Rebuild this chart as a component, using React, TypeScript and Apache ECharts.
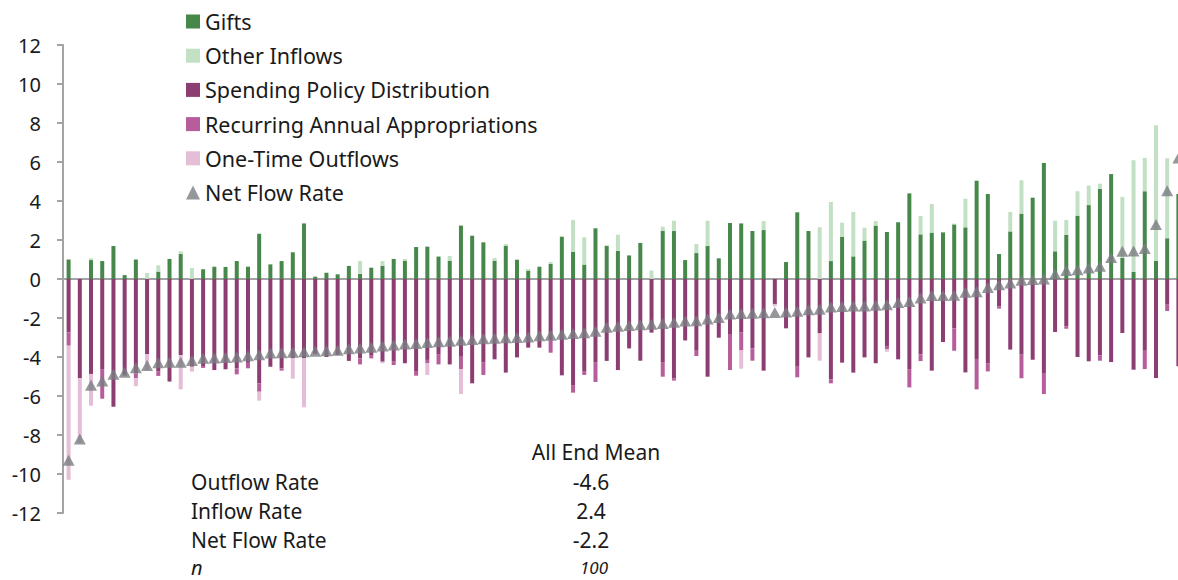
import React, { useEffect, useRef } from "react";
import * as echarts from "echarts";

const categories = Array.from({ length: 100 }, (_, i) => `Endowment ${i + 1}`);

const gifts = [
  1.0, 0, 0.97, 0.92, 1.69, 0.2, 1.0, 0, 0.38, 1.03,
  1.28, 0, 0.5, 0.63, 0.62, 0.92, 0.63, 2.32, 0.75, 0.92,
  1.37, 2.85, 0.12, 0.32, 0.24, 0.67, 0.26, 0.58, 0.67, 1.03,
  0.94, 1.64, 1.66, 1.15, 0.94, 2.74, 2.22, 1.88, 0.94, 1.71,
  0.99, 0.43, 0.63, 0.77, 2.17, 1.4, 0.74, 2.6, 1.69, 1.44,
  1.21, 1.85, 0, 2.46, 2.46, 0.97, 1.33, 1.69, 1.06, 2.87,
  2.85, 2.46, 2.51, 0, 0.87, 3.42, 2.46, 0, 0.92, 2.17,
  1.16, 1.97, 2.74, 2.41, 2.91, 4.39, 2.29, 2.38, 2.39, 2.8,
  2.65, 5.04, 4.36, 1.28, 2.44, 3.35, 4.17, 5.95, 1.42, 2.27,
  3.25, 3.79, 4.62, 5.38, 1.08, 0.36, 4.5, 0.94, 2.09, 4.36,
];

const otherInflows = [
  0, 0, 0.09, 0, 0, 0, 0, 0.31, 0.32, 0,
  0.14, 0.56, 0, 0, 0, 0, 0, 0, 0, 0,
  0, 0, 0, 0, 0, 0, 0.66, 0, 0.25, 0,
  0.09, 0, 0, 0, 0.24, 0, 0, 0, 0.14, 0.08,
  0, 0.08, 0, 0.1, 0, 1.63, 1.4, 0, 0.05, 0.83,
  0, 0, 0.43, 0.22, 0.53, 0, 0.46, 1.3, 0, 0,
  0, 0, 0.46, 0, 0, 0, 0, 2.65, 3.03, 0.72,
  2.28, 0.66, 0.23, 0, 0, 0, 0.94, 1.47, 0, 0.04,
  1.47, 0, 0, 0, 1.0, 1.71, 0, 0, 1.57, 0.76,
  1.25, 1.0, 0.27, 0, 3.13, 5.73, 1.71, 6.94, 4.1, 0,
];

const spendingPolicy = [
  -2.74, -5.09, -4.87, -4.62, -6.55, -4.95, -4.84, -3.85, -4.75, -5.26,
  -3.9, -4.5, -4.46, -4.67, -4.63, -4.58, -4.3, -5.35, -4.5, -4.58,
  -4.07, -4.07, -3.85, -4.0, -3.9, -4.2, -4.07, -3.9, -4.24, -4.24,
  -4.32, -4.72, -4.15, -3.85, -4.38, -3.95, -5.35, -4.29, -4.12, -4.8,
  -4.02, -3.52, -3.52, -3.13, -4.94, -5.44, -4.72, -4.29, -4.2, -4.67,
  -3.56, -4.19, -2.75, -4.26, -5.09, -3.15, -3.64, -5.01, -3.01, -2.82,
  -2.75, -3.56, -4.7, -1.28, -2.53, -4.46, -4.02, -2.79, -5.15, -4.29,
  -4.8, -4.02, -4.32, -3.44, -4.12, -4.62, -3.86, -4.7, -3.23, -2.53,
  -4.79, -4.1, -4.34, -1.4, -3.62, -3.88, -4.14, -4.82, -2.72, -2.43,
  -4.0, -4.22, -3.91, -4.26, -2.77, -4.65, -3.68, -5.08, -1.32, -4.48,
];

const recurringAppropriations = [
  -0.68, 0, 0, -1.52, 0, 0, -0.25, 0, -0.22, 0,
  0, 0, -0.1, 0, 0, -0.31, -0.28, -0.43, 0, -0.12,
  0, 0, 0, 0, 0, 0, -0.31, -0.17, 0, -0.17,
  0, -0.24, -0.17, -0.53, 0, -0.68, 0, -0.63, 0, 0,
  0, 0, 0, -0.65, 0, -0.39, -0.2, -0.99, 0, 0,
  0, 0, 0, -0.75, -0.12, 0, -0.31, 0, 0, -1.85,
  -0.89, -0.63, 0, 0, 0, -0.58, 0, 0, -0.2, 0,
  0, 0, 0, -0.15, 0, -0.94, -0.35, 0, 0, -1.15,
  0, -1.56, -0.4, -0.12, 0, -1.21, 0, -1.08, 0, -0.12,
  0, 0, -0.28, 0, 0, 0, -0.94, 0, -0.32, 0,
];

const oneTimeOutflows = [
  -6.88, -3.3, -1.63, 0, 0, 0, -0.41, -0.82, 0, 0,
  -1.76, -0.25, 0, 0, 0, 0, 0, -0.46, 0, 0,
  -1.04, -2.51, 0, 0, 0, 0, 0, 0, -0.08, 0,
  0, 0, -0.6, 0, 0, -1.27, 0, 0, 0, 0,
  0, 0, 0, 0, 0, 0, 0, 0, 0, 0,
  0, 0, 0, 0, 0, 0, 0, 0, 0, 0,
  -0.96, 0, 0, -0.12, 0, 0, 0, -1.4, 0, 0,
  0, 0, 0, -0.14, 0, 0, 0, 0, 0, 0,
  0, 0, 0, 0, 0, 0, 0, 0, 0, 0,
  0, 0, 0, 0, 0, 0, 0, 0, 0, 0,
];

const netFlowRate = [
  -9.3, -8.2, -5.45, -5.23, -4.88, -4.78, -4.55, -4.44, -4.3, -4.27,
  -4.27, -4.18, -4.07, -4.05, -4.03, -4.0, -3.93, -3.88, -3.8, -3.78,
  -3.75, -3.73, -3.7, -3.68, -3.65, -3.58, -3.54, -3.5, -3.43, -3.38,
  -3.33, -3.31, -3.25, -3.22, -3.19, -3.14, -3.1, -3.06, -3.04, -3.01,
  -3.0, -2.97, -2.91, -2.88, -2.83, -2.8, -2.76, -2.68, -2.47, -2.42,
  -2.38, -2.35, -2.32, -2.28, -2.22, -2.16, -2.14, -2.05, -1.97, -1.8,
  -1.77, -1.75, -1.73, -1.72, -1.69, -1.66, -1.58, -1.55, -1.43, -1.41,
  -1.39, -1.38, -1.35, -1.32, -1.2, -1.15, -0.98, -0.85, -0.84, -0.83,
  -0.68, -0.65, -0.44, -0.3, -0.2, -0.07, -0.03, 0.0, 0.26, 0.44,
  0.48, 0.56, 0.66, 1.1, 1.42, 1.43, 1.57, 2.79, 4.53, 6.2,
];

const tableHeader = "All End Mean";
const tableLabels = ["Outflow Rate", "Inflow Rate", "Net Flow Rate", "n"];
const tableValues = ["-4.6", "2.4", "-2.2", "100"];

const FONT = "Noto Sans";
const TEXT = "#1a1a1a";

export default function App() {
  const ref = useRef<HTMLDivElement>(null);

  useEffect(() => {
    if (!ref.current) return;
    const chart = echarts.init(ref.current, undefined, { renderer: "svg" });

    const barBase = {
      type: "bar",
      stack: "flows",
      barWidth: 4,
      barGap: "0%",
    };

    const rowYs = [482, 511, 540, 567];
    const graphics: any[] = [
      {
        type: "text",
        style: {
          text: tableHeader,
          x: 596,
          y: 452,
          textAlign: "center",
          textVerticalAlign: "middle",
          fontFamily: FONT,
          fontSize: 21,
          fill: TEXT,
        },
      },
    ];
    tableLabels.forEach((lab, i) => {
      const italic = i === 3;
      graphics.push({
        type: "text",
        style: {
          text: lab,
          x: 191,
          y: rowYs[i],
          textAlign: "left",
          textVerticalAlign: "middle",
          fontFamily: FONT,
          fontSize: italic ? 20 : 21,
          fontStyle: italic ? "italic" : "normal",
          fill: TEXT,
        },
      });
      graphics.push({
        type: "text",
        style: {
          text: tableValues[i],
          x: italic ? 594 : 591,
          y: rowYs[i],
          textAlign: "center",
          textVerticalAlign: "middle",
          fontFamily: FONT,
          fontSize: italic ? 17 : 21,
          fontStyle: italic ? "italic" : "normal",
          fill: TEXT,
        },
      });
    });

    chart.setOption({
      animation: false,
      backgroundColor: "#ffffff",
      grid: { left: 63, top: 45, width: 1121, height: 468, containLabel: false },
      legend: {
        orient: "vertical",
        left: 181,
        top: 5.5,
        itemWidth: 14,
        itemHeight: 14,
        itemGap: 12.2,
        icon: "rect",
        textStyle: { fontFamily: FONT, fontSize: 21.5, color: TEXT, lineHeight: 21 },
        data: [
          "Gifts",
          "Other Inflows",
          "Spending Policy Distribution",
          "Recurring Annual Appropriations",
          "One-Time Outflows",
          { name: "Net Flow Rate", icon: "triangle" },
        ],
      },
      xAxis: {
        type: "category",
        data: categories,
        axisLine: { onZero: true, lineStyle: { color: "#a3a3a3", width: 2 } },
        axisTick: { show: false },
        axisLabel: { show: false },
        splitLine: { show: false },
      },
      yAxis: {
        type: "value",
        min: -12,
        max: 12,
        interval: 2,
        axisLine: { show: true, lineStyle: { color: "#a3a3a3", width: 2 } },
        axisTick: { show: true, length: 6, lineStyle: { color: "#a3a3a3", width: 2 } },
        axisLabel: { fontFamily: FONT, fontSize: 20, color: TEXT, margin: 22 },
        splitLine: { show: false },
      },
      series: [
        { ...barBase, name: "Gifts", data: gifts, itemStyle: { color: "#46874a" } },
        { ...barBase, name: "Other Inflows", data: otherInflows, itemStyle: { color: "#c2e0c4" } },
        { ...barBase, name: "Spending Policy Distribution", data: spendingPolicy, itemStyle: { color: "#8c3d72" } },
        { ...barBase, name: "Recurring Annual Appropriations", data: recurringAppropriations, itemStyle: { color: "#b65e9c" } },
        { ...barBase, name: "One-Time Outflows", data: oneTimeOutflows, itemStyle: { color: "#e4bdd6" } },
        {
          type: "scatter",
          name: "Net Flow Rate",
          data: netFlowRate,
          symbol: "triangle",
          symbolSize: [12, 11],
          itemStyle: { color: "#7a7d82" },
          z: 5,
        },
      ],
      graphic: graphics,
    });

    return () => chart.dispose();
  }, []);

  return (
    <div
      style={{
        position: "fixed",
        left: 0,
        top: 0,
        width: 1178,
        height: 580,
        overflow: "hidden",
        background: "#fff",
      }}
    >
      <div ref={ref} style={{ width: 1200, height: 580 }} />
    </div>
  );
}
